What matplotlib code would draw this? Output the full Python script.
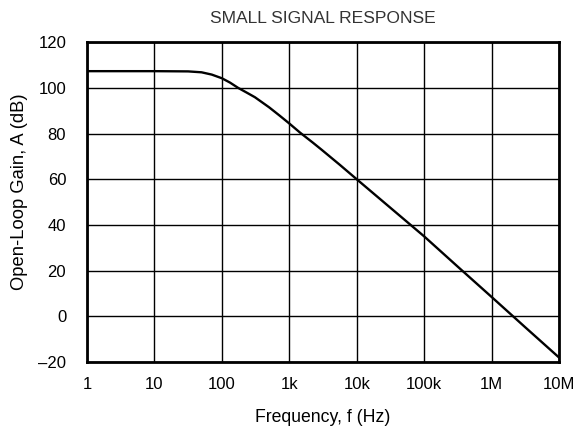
import matplotlib
matplotlib.use("Agg")
import matplotlib.pyplot as plt

plt.rcParams['font.family'] = ['Liberation Sans', 'DejaVu Sans']

# open-loop gain (Hz, dB)
freq = [1, 10, 31.6, 50, 70.8, 100, 132, 174, 234, 309, 501, 708,
        1000, 1445, 2240, 3020, 5620, 1e4, 31620, 1e5, 316200, 1e6, 3162000, 1e7]
gain = [107.3, 107.3, 107.2, 106.8, 105.8, 104.2, 102.3, 100.0, 97.9, 95.9, 91.5, 88.0,
        84.4, 80.4, 76.0, 72.9, 66.3, 60.0, 47.5, 35.0, 21.7, 8.5, -4.8, -18.0]

xticks = [1, 10, 100, 1e3, 1e4, 1e5, 1e6, 1e7]
xlabels = ['1', '10', '100', '1k', '10k', '100k', '1M', '10M']
yticks = [-20, 0, 20, 40, 60, 80, 100, 120]
ylabels = ['\u201320', '0', '20', '40', '60', '80', '100', '120']

fig = plt.figure(figsize=(5.82, 4.30), dpi=100)
ax = fig.add_axes([0.1495, 0.158, 0.811, 0.744])

ax.semilogx(freq, gain, color='black', linewidth=1.7, zorder=3)

ax.set_xlim(1, 1e7)
ax.set_ylim(-20, 120)
ax.set_xticks(xticks)
ax.set_xticklabels(xlabels)
ax.set_yticks(yticks)
ax.set_yticklabels(ylabels)
ax.minorticks_off()
ax.tick_params(length=0, labelsize=12, pad=11)
ax.tick_params(axis='y', pad=15)
ax.grid(True, color='black', linewidth=1.0)
for s in ax.spines.values():
    s.set_linewidth(2)

ax.set_title('SMALL SIGNAL RESPONSE', fontsize=12.6, pad=14, color='#333333')
ax.set_xlabel('Frequency, f (Hz)', fontsize=12.7, labelpad=12)
ax.set_ylabel('Open-Loop Gain, A (dB)', fontsize=13.2)
ax.yaxis.set_label_coords(-0.125, 0.534)

fig.savefig('out.png', dpi=100)
